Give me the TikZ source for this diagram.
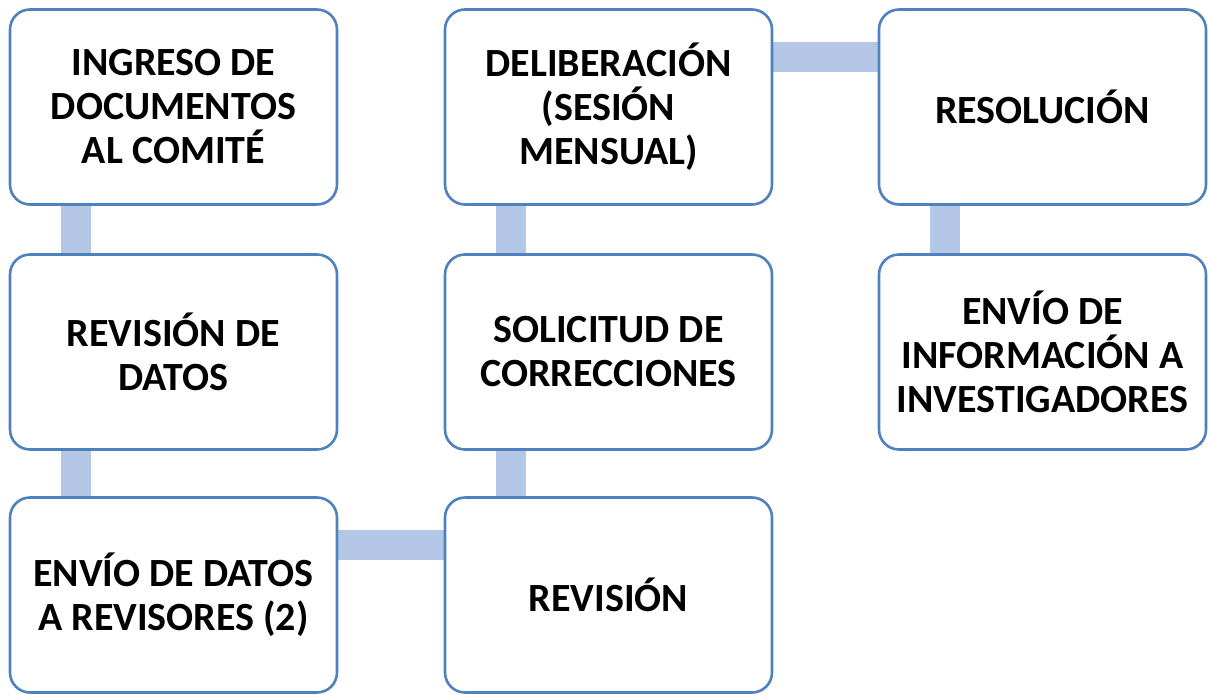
\documentclass[tikz,border=0pt]{standalone}
\usepackage{fontspec}
\setmainfont{Carlito}
\usetikzlibrary{calc,backgrounds}
\definecolor{boxblue}{HTML}{4F81BD}
\definecolor{barblue}{HTML}{B4C7E7}
\tikzset{
  procbox/.style={draw=boxblue, line width=2.6pt, fill=white, rounded corners=20pt,
    minimum width=327pt, minimum height=195pt, inner sep=0pt, align=center,
    font=\bfseries\fontsize{40}{44}\selectfont, text=black},
  linkbar/.style={draw=barblue, line width=30pt}
}
\begin{document}
\begin{tikzpicture}[x=1pt,y=-1pt]
\useasboundingbox (0,0) rectangle (1208,694);
\node[procbox] (n1) at (173.5,107) {INGRESO DE\\DOCUMENTOS\\AL COMITÉ};
\node[procbox] (n2) at (173.5,352) {REVISIÓN DE\\DATOS};
\node[procbox] (n3) at (173.5,595) {ENVÍO DE DATOS\\A REVISORES (2)};
\node[procbox] (n4) at (608.5,595) {REVISIÓN};
\node[procbox] (n5) at (608.5,352) {SOLICITUD DE\\CORRECCIONES};
\node[procbox] (n6) at (608.5,107) {DELIBERACIÓN\\(SESIÓN\\MENSUAL)};
\node[procbox] (n7) at (1042.5,107) {RESOLUCIÓN};
\node[procbox] (n8) at (1042.5,352) {ENVÍO DE\\INFORMACIÓN A\\INVESTIGADORES};
\begin{scope}[on background layer]
\draw[linkbar] ($(n1.south west)+(67,0)$) -- ($(n2.north west)+(67,0)$);
\draw[linkbar] ($(n2.south west)+(67,0)$) -- ($(n3.north west)+(67,0)$);
\draw[linkbar] ($(n3.north east)+(0,49)$) -- ($(n4.north west)+(0,49)$);
\draw[linkbar] ($(n4.north west)+(67,0)$) -- ($(n5.south west)+(67,0)$);
\draw[linkbar] ($(n5.north west)+(67,0)$) -- ($(n6.south west)+(67,0)$);
\draw[linkbar] ($(n6.north east)+(0,49)$) -- ($(n7.north west)+(0,49)$);
\draw[linkbar] ($(n7.south west)+(67,0)$) -- ($(n8.north west)+(67,0)$);
\end{scope}
\end{tikzpicture}
\end{document}
